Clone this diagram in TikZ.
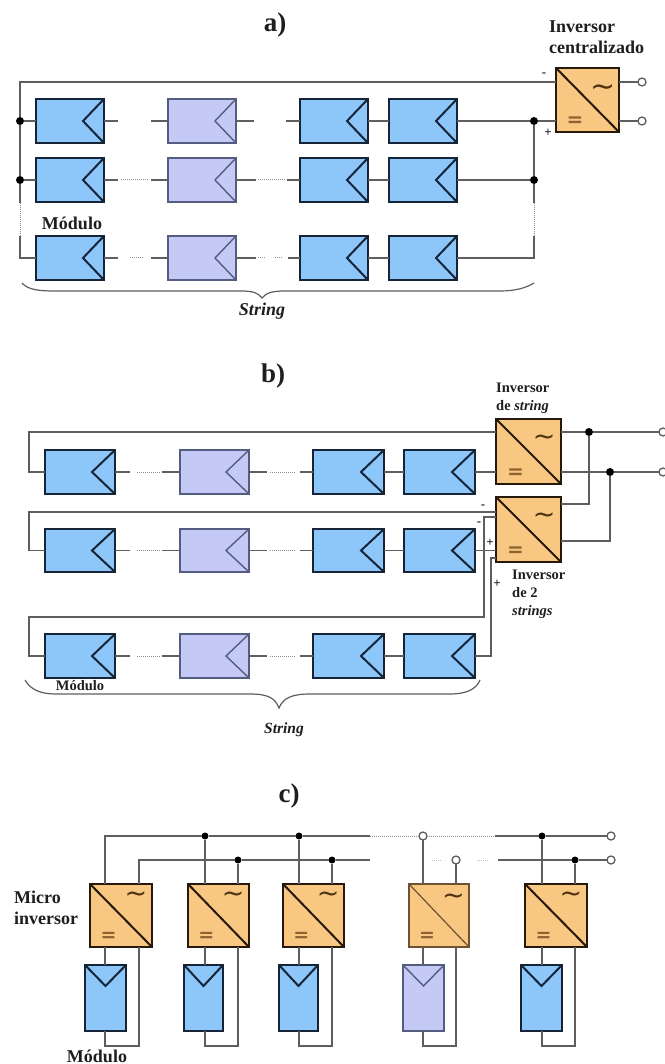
\documentclass[tikz,border=0pt]{standalone}
\usepackage{fontspec}
\setmainfont{Liberation Serif}
\newfontfamily\symfont{DejaVu Sans}
\usetikzlibrary{calc}
\definecolor{wirec}{HTML}{5E5E5E}
\definecolor{dotc}{HTML}{8E8E8E}
\definecolor{inkc}{HTML}{1E1E1E}
\tikzset{
  modshape/.style={rectangle,inner sep=0pt,outer sep=0pt},
  bluefill/.style={fill={rgb,255:red,141;green,199;blue,250}},
  lilacfill/.style={fill={rgb,255:red,197;green,201;blue,246}},
  bluedraw/.style={draw={rgb,255:red,22;green,36;blue,56},line width=2pt},
  lilacdraw/.style={draw={rgb,255:red,84;green,92;blue,128},line width=1.4pt},
  invfill/.style={fill={rgb,255:red,248;green,200;blue,130}},
  invdraw/.style={draw={rgb,255:red,38;green,24;blue,10},line width=2pt},
  invlight/.style={draw={rgb,255:red,110;green,80;blue,50},line width=1.2pt},
  wire/.style={draw=wirec,line width=1.5pt},
  thinwire/.style={draw=wirec,line width=1.1pt},
  dotwire/.style={draw=dotc,line width=1pt,densely dotted},
  faintdot/.style={draw=dotc!60,line width=1pt,densely dotted},
  junction/.style={circle,fill=black,inner sep=0pt,outer sep=0pt,minimum size=8pt},
  smalljunction/.style={junction,minimum size=7pt},
  ring/.style={circle,draw=wirec,fill=white,line width=1.3pt,inner sep=0pt,outer sep=0pt,minimum size=8pt},
  brace/.style={draw=wirec,line width=1.2pt},
  lab/.style={text=inkc,inner sep=0pt,font=\bfseries\fontsize{18}{21}\selectfont,align=left},
  smalllab/.style={text=inkc,inner sep=0pt,font=\bfseries\fontsize{14.5}{18}\selectfont,align=left},
  head/.style={text=inkc,inner sep=0pt,font=\bfseries\fontsize{27}{30}\selectfont},
  sign/.style={text=inkc,inner sep=0pt,font=\bfseries\fontsize{13}{13}\selectfont}
}
% horizontal module: name,x1,y1,x2,y2,kind(blue/lilac),depth
\newcommand{\pvh}[7]{%
  \node[modshape,#6fill,#6draw,minimum width={(#4-#2)*1pt},minimum height={(#5-#3)*1pt}] (#1) at ({(#2+#4)/2},{(#3+#5)/2}) {};
  \draw[#6draw] (#1.north east) -- ($(#1.east)+(-#7pt,0pt)$) -- (#1.south east);}
% vertical module
\newcommand{\pvv}[6]{%
  \node[modshape,#6fill,#6draw,minimum width={(#4-#2)*1pt},minimum height={(#5-#3)*1pt}] (#1) at ({(#2+#4)/2},{(#3+#5)/2}) {};
  \draw[#6draw] (#1.north west) -- ($(#1.north)+(0pt,-21pt)$) -- (#1.north east);}
% inverter: name,x1,y1,x2,y2,drawstyle,tilde rel y,tilde size,eq size
\newcommand{\invbox}[9]{%
  \node[modshape,invfill,#6,minimum width={(#4-#2)*1pt},minimum height={(#5-#3)*1pt}] (#1) at ({(#2+#4)/2},{(#3+#5)/2}) {};
  \draw[#6] (#1.north west) -- (#1.south east);
  \node[inner sep=0pt,yshift={-.1*#8*1pt},text={rgb,255:red,80;green,52;blue,20},font=\symfont\fontsize{#8}{#8}\selectfont] (#1t) at ({#2+.74*(#4-#2)},{#3+#7*(#5-#3)}) {\textasciitilde};
  \node[inner sep=0pt,yshift={-.1*#9*1pt},text={rgb,255:red,140;green,100;blue,50},font=\symfont\bfseries\fontsize{#9}{#9}\selectfont] (#1e) at ({#2+.3*(#4-#2)},{#3+.81*(#5-#3)}) {=};}
% link between two modules with a gap: from,to,prefix,xa,xb,y,dotted parts
\newcommand{\seglink}[7]{%
  \coordinate (#3a) at (#4,#6);
  \coordinate (#3b) at (#5,#6);
  \draw[wire] (#1.east) -- (#3a);
  \draw[wire] (#3b) -- (#2.west);
  #7}
\newcommand{\dotseg}[3]{\draw[dotwire] (#1,#3) -- (#2,#3);}
\begin{document}
\begin{tikzpicture}[x=1pt,y=-1pt]
\useasboundingbox (0,0) rectangle (664,1064);
\fill[white] (0,0) rectangle (664,1064);

%%%%%%%%%%%%%%%%%%%%%%% a
\node[head] (ha) at (275,25) {a)};
\foreach \r/\ya/\yb in {1/99/143,2/158/202,3/236/280}{
  \pvh{a\r1}{36}{\ya}{104}{\yb}{blue}{21}
  \pvh{a\r2}{168}{\ya}{236}{\yb}{lilac}{21}
  \pvh{a\r3}{300}{\ya}{368}{\yb}{blue}{21}
  \pvh{a\r4}{389}{\ya}{457}{\yb}{blue}{21}
  \draw[wire] (a\r3) -- (a\r4);
}
\invbox{ia}{556}{68}{619}{132}{invdraw}{.30}{30}{20}
\seglink{a11}{a12}{aa1}{118}{151}{121}{}
\seglink{a12}{a13}{ab1}{254}{286}{121}{}
\seglink{a21}{a22}{aa2}{118}{151}{180}{\dotseg{121}{149}{180}}
\seglink{a22}{a23}{ab2}{256}{287}{180}{\dotseg{258}{285}{180}}
\seglink{a31}{a32}{aa3}{118}{151}{258}{\dotseg{130}{143}{258}}
\seglink{a32}{a33}{ab3}{256}{288}{258}{\dotseg{258}{265}{258}\dotseg{275}{283}{258}}
% bus left
\node[junction] (ja1) at (20,121) {};
\node[junction] (ja2) at (20,180) {};
\coordinate (aTL) at (20,82);
\coordinate (aIn1) at (556,82);
\coordinate (aL2) at (20,203);
\coordinate (aL3) at (20,236);
\coordinate (aL4) at (20,258);
\draw[wire] (aIn1) -- (aTL) -- (ja1) -- (ja2) -- (aL2);
\draw[dotwire] (aL2) -- (aL3);
\draw[wire] (aL3) -- (aL4) -- (a31.west);
\draw[wire] (ja1) -- (a11.west);
\draw[wire] (ja2) -- (a21.west);
% bus right
\node[junction] (ja3) at (534,121) {};
\node[junction] (ja4) at (534,180) {};
\coordinate (aIn2) at (556,121);
\coordinate (aR2) at (534,203);
\coordinate (aR3) at (534,236);
\coordinate (aR4) at (534,258);
\draw[wire] (a14.east) -- (ja3) -- (aIn2);
\draw[wire] (a24.east) -- (ja4);
\draw[wire] (ja3) -- (ja4) -- (aR2);
\draw[dotwire] (aR2) -- (aR3);
\draw[wire] (aR3) -- (aR4) -- (a34.east);
% outputs
\node[ring] (ra1) at (642,82) {};
\node[ring] (ra2) at (642,121) {};
\coordinate (aOut1) at (619,82);
\coordinate (aOut2) at (619,121);
\draw[wire] (aOut1) -- (ra1);
\draw[wire] (aOut2) -- (ra2);
\node[sign] (sa1) at (544,75) {-};
\node[sign] (sa2) at (548,133) {+};
\node[lab,anchor=west] (la1) at (549,37) {Inversor\\centralizado};
\node[lab] (la2) at (72,223) {Módulo};
\node[text=inkc,inner sep=0pt,font=\bfseries\itshape\fontsize{18}{20}\selectfont] (la3) at (262,311) {String};
\draw[brace] (22,283) .. controls (28,290) and (40,291) .. (55,291) -- (240,291) .. controls (254,291) and (258,293) .. (262,298) .. controls (266,293) and (272,291) .. (285,291) -- (500,291) .. controls (515,291) and (526,288) .. (534,283);

%%%%%%%%%%%%%%%%%%%%%%% b
\node[head] (hb) at (273,376) {b)};
\foreach \r/\ya/\yb in {1/450/494,2/529/572,3/634/678}{
  \pvh{b\r1}{45}{\ya}{115}{\yb}{blue}{23}
  \pvh{b\r2}{180}{\ya}{249}{\yb}{lilac}{23}
  \pvh{b\r3}{313}{\ya}{384}{\yb}{blue}{23}
  \pvh{b\r4}{404}{\ya}{475}{\yb}{blue}{23}
  \draw[wire] (b\r3) -- (b\r4);
}
\invbox{ib}{496}{419}{561}{484}{invdraw}{.28}{27}{20}
\invbox{ic}{496}{497}{561}{562}{invdraw}{.28}{27}{20}
\foreach \r/\y in {1/472,2/550.5,3/656}{
  \seglink{b\r1}{b\r2}{ba\r}{130}{162}{\y}{\dotseg{137}{160}{\y}}
  \seglink{b\r2}{b\r3}{bb\r}{267}{300}{\y}{\dotseg{270}{296}{\y}}
}
% row 1
\coordinate (bT1a) at (29,472);
\coordinate (bT1b) at (29,432);
\coordinate (bIn1) at (496,432);
\coordinate (bIn2) at (496,472);
\draw[wire] (b11.west) -- (bT1a) -- (bT1b) -- (bIn1);
\draw[wire] (b14.east) -- (bIn2);
% row 2
\coordinate (bT2a) at (29,550.5);
\coordinate (bT2b) at (29,512);
\coordinate (bIn3) at (496,512);
\coordinate (bIn4) at (496,550.5);
\draw[wire] (b21.west) -- (bT2a) -- (bT2b) -- (bIn3);
\draw[wire] (b24.east) -- (bIn4);
% row 3
\coordinate (bT3a) at (29,656);
\coordinate (bT3b) at (29,617);
\coordinate (bC1) at (484,617);
\coordinate (bC2) at (484,517);
\coordinate (bIn5) at (496,517);
\coordinate (bD1) at (491,656);
\coordinate (bD2) at (491,558);
\coordinate (bIn6) at (496,558);
\draw[wire,line width=1.2pt] (b31.west) -- (bT3a) -- (bT3b) -- (bC1) -- (bC2) -- (bIn5);
\draw[thinwire] (b34.east) -- (bD1) -- (bD2) -- (bIn6);
% outputs
\node[junction] (jb1) at (589,432) {};
\node[junction] (jb2) at (610,472) {};
\node[ring] (rb1) at (663,432) {};
\node[ring] (rb2) at (663,472) {};
\coordinate (bO1) at (561,432);
\coordinate (bO2) at (561,472);
\coordinate (bO3) at (561,504);
\coordinate (bO4) at (589,504);
\coordinate (bO5) at (561,541);
\coordinate (bO6) at (610,541);
\draw[wire] (bO1) -- (jb1) -- (rb1);
\draw[wire] (bO2) -- (jb2) -- (rb2);
\draw[wire] (bO3) -- (bO4) -- (jb1);
\draw[wire] (bO5) -- (bO6) -- (jb2);
\node[sign] (sb1) at (483,507) {-};
\node[sign] (sb2) at (479,524) {-};
\node[sign] (sb3) at (490,543) {+};
\node[sign] (sb4) at (497,584) {+};
\node[smalllab,anchor=west] (lb1) at (496,398) {Inversor\\de \textit{string}};
\node[smalllab,anchor=west] (lb2) at (512,594) {Inversor\\de 2\\\textit{strings}};
\node[smalllab] (lb3) at (80,686) {Módulo};
\node[text=inkc,inner sep=0pt,font=\bfseries\itshape\fontsize{15.5}{18}\selectfont] (lb4) at (284,730) {String};
\draw[brace] (25,680) .. controls (30,689) and (40,694) .. (55,694) -- (250,694) .. controls (268,694) and (275,698) .. (279,708) .. controls (283,698) and (292,694) .. (310,694) -- (450,694) .. controls (465,694) and (476,690) .. (480,680);

%%%%%%%%%%%%%%%%%%%%%%% c
\node[head] (hc) at (289,796) {c)};
\foreach \n/\xa/\xb/\ma/\mb/\pa/\pb in {1/90/152/85/126/105/139,2/188/249/184/223/205/238,3/283/344/279/318/299/332,5/525/587/521/562/542/575}{
  \invbox{m\n}{\xa}{884}{\xb}{947}{invdraw}{.17}{27}{19}
  \pvv{p\n}{\ma}{965}{\mb}{1031}{blue}
  \coordinate (up\n) at (\pa,884);
  \coordinate (un\n) at (\pb,884);
  \coordinate (dp\n) at (\pa,947);
  \coordinate (dn\n) at (\pb,947);
  \coordinate (tp\n) at (\pa,965);
  \coordinate (bp\n) at (\pa,1031);
  \coordinate (cp\n) at (\pa,1046);
  \coordinate (cn\n) at (\pb,1046);
  \draw[wire] (dp\n) -- (tp\n);
  \draw[wire] (bp\n) -- (cp\n) -- (cn\n) -- (dn\n);
}
\invbox{m4}{409}{884}{469}{947}{invlight}{.20}{27}{19}
\pvv{p4}{403}{965}{444}{1031}{lilac}
\coordinate (up4) at (423,884);
\coordinate (un4) at (456,884);
\coordinate (dp4) at (423,947);
\coordinate (dn4) at (456,947);
\coordinate (tp4) at (423,965);
\coordinate (bp4) at (423,1031);
\coordinate (cp4) at (423,1046);
\coordinate (cn4) at (456,1046);
\draw[wire] (dp4) -- (tp4);
\draw[wire] (bp4) -- (cp4) -- (cn4) -- (dn4);
% buses
\node[smalljunction] (t2) at (205,836) {};
\node[smalljunction] (t3) at (299,836) {};
\node[ring] (t4) at (423,836) {};
\node[smalljunction] (t5) at (542,836) {};
\node[ring] (tend) at (611,836) {};
\node[smalljunction] (n2) at (238,860) {};
\node[smalljunction] (n3) at (332,860) {};
\node[ring] (n4) at (456,860) {};
\node[smalljunction] (n5) at (575,860) {};
\node[ring] (nend) at (611,860) {};
\coordinate (t1) at (105,836);
\coordinate (n1) at (139,860);
\coordinate (tA) at (370,836);
\coordinate (tB) at (495,836);
\coordinate (nA) at (370,860);
\coordinate (nB) at (498,860);
\draw[wire] (up1) -- (t1) -- (t2) -- (t3) -- (tA);
\draw[dotwire] (tA) -- (t4) -- (tB);
\draw[wire] (tB) -- (t5) -- (tend);
\draw[wire] (un1) -- (n1) -- (n2) -- (n3) -- (nA);
\draw[faintdot] (432,860) -- (441,860);
\draw[faintdot] (477,860) -- (488,860);
\draw[wire] (nB) -- (n5) -- (nend);
\draw[wire] (up2) -- (t2);
\draw[wire] (un2) -- (n2);
\draw[wire] (up3) -- (t3);
\draw[wire] (un3) -- (n3);
\draw[wire] (up4) -- (t4);
\draw[wire] (un4) -- (n4);
\draw[wire] (up5) -- (t5);
\draw[wire] (un5) -- (n5);
\node[lab,anchor=west] (lc1) at (14,907.5) {Micro\\inversor};
\node[lab] (lc2) at (97,1056) {Módulo};
\end{tikzpicture}
\end{document}
